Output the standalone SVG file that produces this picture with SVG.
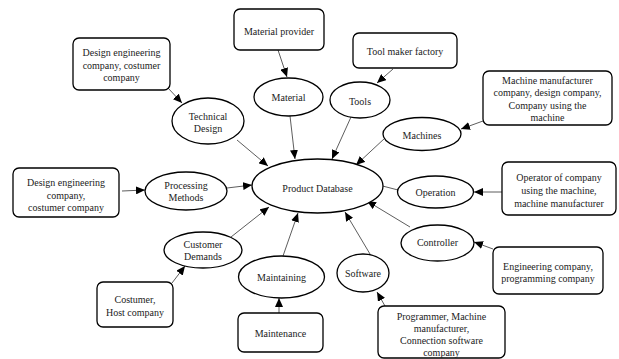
<svg xmlns="http://www.w3.org/2000/svg" width="619" height="359" viewBox="0 0 619 359">
<defs>
<marker id="ah" markerUnits="userSpaceOnUse" markerWidth="10" markerHeight="8" refX="9" refY="4" orient="auto">
<path d="M0,0 L9,4 L0,8 Z" fill="#000"/>
</marker>
<style>
.n ellipse,.n rect{fill:#fff;stroke:#000;stroke-width:1.3}
text{font-family:"Liberation Serif","Times New Roman","DejaVu Serif",serif;font-size:10px;fill:#222;text-anchor:middle}
#connectors line{stroke:#333;stroke-width:0.8;marker-end:url(#ah)}
</style>
</defs>
<rect width="619" height="359" fill="#fff"/>
<g id="connectors">
<line x1="168" y1="88" x2="182" y2="103"/>
<line x1="237" y1="140" x2="268" y2="166"/>
<line x1="278" y1="50" x2="287" y2="77"/>
<line x1="290" y1="116" x2="295" y2="159"/>
<line x1="393" y1="69" x2="377" y2="83"/>
<line x1="351" y1="117" x2="332" y2="159"/>
<line x1="385" y1="138" x2="356" y2="165"/>
<line x1="483" y1="121" x2="461" y2="129"/>
<line x1="502" y1="192" x2="474" y2="192"/>
<line x1="398" y1="190" x2="371" y2="183"/>
<line x1="410" y1="227" x2="367" y2="201"/>
<line x1="493" y1="249" x2="474" y2="242"/>
<line x1="370" y1="254" x2="345" y2="212"/>
<line x1="385" y1="306" x2="377" y2="292"/>
<line x1="279" y1="313" x2="279" y2="298"/>
<line x1="283" y1="256" x2="298" y2="213"/>
<line x1="172" y1="283" x2="185" y2="266"/>
<line x1="231" y1="237" x2="269" y2="207"/>
<line x1="122" y1="191" x2="145" y2="190"/>
<line x1="227" y1="188" x2="252" y2="185"/>
</g>
<g id="product-database" class="n"><ellipse cx="317.5" cy="186" rx="65.5" ry="27"/><text x="317.5" y="191.5">Product Database</text></g>
<g id="technical-design" class="n"><ellipse cx="208" cy="121" rx="36" ry="23"/><text x="208" y="119.5">Technical</text><text x="208" y="131.5">Design</text></g>
<g id="material" class="n"><ellipse cx="288.5" cy="97" rx="34.5" ry="19"/><text x="288.5" y="101">Material</text></g>
<g id="tools" class="n"><ellipse cx="360" cy="100" rx="30" ry="18"/><text x="360" y="104.5">Tools</text></g>
<g id="machines" class="n"><ellipse cx="422" cy="134" rx="39" ry="16.5"/><text x="422" y="138.5">Machines</text></g>
<g id="operation" class="n"><ellipse cx="435.5" cy="192" rx="38" ry="16"/><text x="435.5" y="195.5">Operation</text></g>
<g id="controller" class="n"><ellipse cx="437.5" cy="243" rx="36.5" ry="18"/><text x="437.5" y="245.5">Controller</text></g>
<g id="software" class="n"><ellipse cx="363" cy="273" rx="26" ry="19"/><text x="363" y="276.5">Software</text></g>
<g id="maintaining" class="n"><ellipse cx="281.5" cy="277" rx="43" ry="21"/><text x="281.5" y="281">Maintaining</text></g>
<g id="customer-demands" class="n"><ellipse cx="203" cy="250" rx="39" ry="18"/><text x="203" y="247.5">Customer</text><text x="203" y="259.5">Demands</text></g>
<g id="processing-methods" class="n"><ellipse cx="186" cy="191" rx="41" ry="19"/><text x="186" y="188.5">Processing</text><text x="186" y="200.5">Methods</text></g>
<g id="box-design-top" class="n"><rect x="73" y="38" width="97" height="52" rx="6"/><text x="121.5" y="56">Design engineering</text><text x="121.5" y="68.5">company, costumer</text><text x="121.5" y="81">company</text></g>
<g id="box-material-provider" class="n"><rect x="234" y="9" width="90" height="41" rx="6"/><text x="279" y="35">Material provider</text></g>
<g id="box-tool-maker" class="n"><rect x="353" y="33" width="104" height="35" rx="6"/><text x="405" y="55">Tool maker factory</text></g>
<g id="box-machine-mfg" class="n"><rect x="483" y="71" width="129" height="54" rx="6"/><text x="547.5" y="83.5">Machine manufacturer</text><text x="547.5" y="96">company, design company,</text><text x="547.5" y="108.5">Company using the</text><text x="547.5" y="120.5">machine</text></g>
<g id="box-operator" class="n"><rect x="502" y="162" width="114" height="53" rx="6"/><text x="559" y="180.5">Operator of company</text><text x="559" y="193.5">using the machine,</text><text x="559" y="206.5">machine manufacturer</text></g>
<g id="box-engineering" class="n"><rect x="493" y="247" width="110" height="47" rx="6"/><text x="548" y="269.5">Engineering company,</text><text x="548" y="281.5">programming company</text></g>
<g id="box-programmer" class="n"><rect x="378" y="306" width="127" height="52" rx="6"/><text x="441.5" y="320">Programmer, Machine</text><text x="441.5" y="332">manufacturer,</text><text x="441.5" y="344">Connection software</text><text x="441.5" y="356">company</text></g>
<g id="box-maintenance" class="n"><rect x="238" y="313" width="85" height="39" rx="6"/><text x="280.5" y="336.5">Maintenance</text></g>
<g id="box-costumer-host" class="n"><rect x="97" y="282" width="76" height="45" rx="6"/><text x="135" y="302.5">Costumer,</text><text x="135" y="315.5">Host company</text></g>
<g id="box-design-left" class="n"><rect x="13" y="168" width="106" height="49" rx="6"/><text x="66" y="186">Design engineering</text><text x="66" y="198.5">company,</text><text x="66" y="211">costumer company</text></g>
</svg>
